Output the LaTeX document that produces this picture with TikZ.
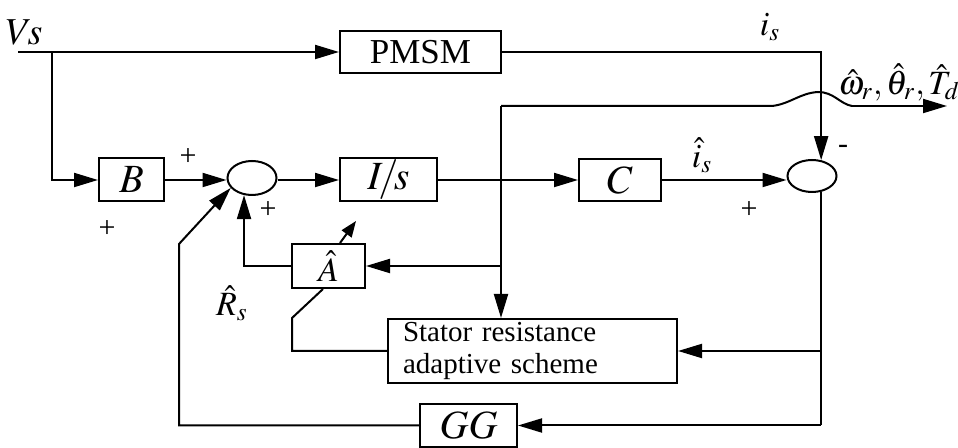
\documentclass[tikz,border=0pt]{standalone}
\usepackage{mathptmx}
\usepackage[no-math]{fontspec}
\setmainfont{Liberation Serif}
\usetikzlibrary{arrows.meta, shapes.geometric}

\begin{document}
\begin{tikzpicture}[
    x=0.5pt, y=-0.5pt,
    blk/.style={draw, line width=1pt, inner sep=0pt, font=\fontsize{20}{24}\selectfont},
    sumc/.style={draw, ellipse, line width=1pt, minimum width=24.5pt,
                 minimum height=17pt, inner sep=0pt},
    arr/.style={-{Triangle[length=12pt,width=7pt]}, line width=1pt},
    ln/.style={line width=1pt},
    sgn/.style={font=\fontsize{15}{18}\selectfont},
    lbl/.style={font=\fontsize{17}{20}\selectfont}
]
\useasboundingbox (0,0) rectangle (958,448);

% Blocks
\node[blk, minimum width=80.5pt, minimum height=21pt,
      font=\fontsize{17.5}{20}\selectfont] (pmsm) at (420.5,52) {PMSM};
\node[blk, minimum width=32.5pt, minimum height=21.5pt] (b)  at (131.5,180) {$B$};
\node[sumc] (c1) at (252,178) {};
\node[blk, minimum width=48.5pt, minimum height=21.5pt] (is) at (388.5,180) {$I\!/\!s$};
\node[blk, minimum width=41pt, minimum height=21pt] (c)    at (620,180) {$C$};
\node[sumc, minimum height=16pt] (c2) at (812,176) {};
\node[blk, minimum width=36.5pt, minimum height=22pt,
      font=\fontsize{17}{20}\selectfont] (ahat) at (328.5,266) {$\hat{A}$};
\node[draw, line width=1pt, inner xsep=7.5pt, inner ysep=0pt, text width=129.5pt,
      minimum height=32pt, align=left, font=\fontsize{14.5}{16}\selectfont]
      (scheme) at (532.5,351) {Stator resistance\\adaptive scheme};
\node[blk, minimum width=48.5pt, minimum height=21.5pt] (gg) at (468.5,425.5) {$GG$};

% Free ends
\coordinate (vin) at (18,52);
\coordinate (vbr) at (52,52);
\coordinate (est) at (501,106);
\coordinate (out) at (947,106);
\coordinate (fb)  at (179,244);
\coordinate (ak)  at (292,318);

% Forward path
\draw[arr] (vin) -- (pmsm);
\draw[arr] (vbr) |- (b);
\draw[arr] (b) -- (b -| c1.west);
\draw[arr] (c1.east |- is) -- (is);
\draw[arr] (is) -- (c);
\draw[arr] (c) -- (c -| c2.west);
\draw[arr] (pmsm.east) -| (c2.60);

% Error feedback
\draw[ln] (c2.-60) -- (c2.-60 |- gg);
\draw[arr] (c2.-60 |- scheme) -- (scheme);
\draw[arr] (c2.-60 |- gg) -- (gg);
\draw[arr] (gg.west) -| (fb) -- (c1.205);

% Estimates
\draw[arr] (est) -- (est |- scheme.north);
\draw[arr] (est |- ahat) -- (ahat);
\draw[ln] (est) -- (772,106) .. controls (790,104) and (800,93) .. (818,92)
          .. controls (834,92) and (840,104) .. (852,106);
\draw[arr] (852,106) -- (out);
\draw[arr] (ahat.west) -| (c1.245);

% Resistance adaptation
\draw[ln] (scheme.west) -| (ak) -- ([xshift=-2.75pt]ahat.south);
\draw[arr, -{Triangle[length=8pt,width=6pt]}] ([xshift=5.75pt]ahat.north) -- ++(16,-22);

% Labels
\node[font=\fontsize{19}{22}\selectfont] (vs) at (24,32) {$V\!s$};
\node[lbl] (isl)  at (770,27)  {$i_s$};
\node[lbl] (ishl) at (702,155) {$\hat{i}_s$};
\node[lbl] (outl) at (899,82)  {$\hat{\omega}_r,\hat{\theta}_r,\hat{T}_d$};
\node[lbl] (rsl)  at (232,303) {$\hat{R}_s$};
\node[sgn] (p1) at (188,157) {+};
\node[sgn] (p2) at (107,229) {+};
\node[sgn] (p3) at (268,210) {+};
\node[sgn] (p4) at (749,210) {+};
\node[sgn] (m1) at (843,149) {-};

\end{tikzpicture}
\end{document}
